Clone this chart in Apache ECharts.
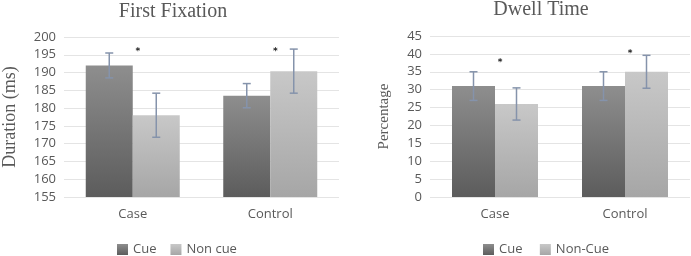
<!DOCTYPE html>
<html>
<head>
<meta charset="utf-8">
<script src="https://cdn.jsdelivr.net/npm/echarts@6/dist/echarts.min.js"></script>
<style>
  html, body { margin: 0; padding: 0; background: #fff; }
  #chart { width: 691px; height: 256px; }
</style>
</head>
<body>
<div id="chart"></div>
<script>
// categories
const categories = ["Case", "Control"];

// First Fixation (ms)
const fixCue = [192, 183.5];
const fixNonCue = [178, 190.4];
const fixCueErr = [3.5, 3.4];
const fixNonCueErr = [6.2, 6.2];
const fixStars = [196, 196];

// Dwell Time (%)
const dwellCue = [31, 31];
const dwellNonCue = [26, 35];
const dwellCueErr = [4, 4];
const dwellNonCueErr = [4.5, 4.6];
const dwellStars = [37.5, 40.2];

const textColor = "#595959";
const errColor = "#8593ab";

const cueColor = new echarts.graphic.LinearGradient(0, 0, 0, 1, [
  { offset: 0, color: "#8e8e8e" },
  { offset: 1, color: "#5c5c5c" },
]);
const nonCueColor = new echarts.graphic.LinearGradient(0, 0, 0, 1, [
  { offset: 0, color: "#c8c8c8" },
  { offset: 1, color: "#a6a6a6" },
]);

// 误差线, side = -1 左边柱子, 1 右边柱子
function errorBar(values, errs, side, barW, gridIndex) {
  return {
    type: "custom",
    xAxisIndex: gridIndex,
    yAxisIndex: gridIndex,
    silent: true,
    z: 5,
    data: values.map((v, i) => [i, v - errs[i], v + errs[i]]),
    renderItem: function (params, api) {
      let low = api.coord([api.value(0), api.value(1)]);
      let high = api.coord([api.value(0), api.value(2)]);
      let x = low[0] + (side * barW) / 2;
      let cap = 4;
      let style = { stroke: errColor, lineWidth: 1.5 };
      return {
        type: "group",
        children: [
          { type: "line", shape: { x1: x, y1: low[1], x2: x, y2: high[1] }, style: style },
          { type: "line", shape: { x1: x - cap, y1: low[1], x2: x + cap, y2: low[1] }, style: style },
          { type: "line", shape: { x1: x - cap, y1: high[1], x2: x + cap, y2: high[1] }, style: style },
        ],
      };
    },
  };
}

function stars(values, gridIndex) {
  return {
    type: "custom",
    xAxisIndex: gridIndex,
    yAxisIndex: gridIndex,
    silent: true,
    z: 6,
    data: values.map((v, i) => [i, v]),
    renderItem: function (params, api) {
      let p = api.coord([api.value(0), api.value(1)]);
      return {
        type: "text",
        x: p[0] + 5,
        y: p[1],
        style: { text: "*", fill: "#222", font: "bold 9px DejaVu Sans", align: "center", verticalAlign: "middle" },
      };
    },
  };
}

function yAxis(gridIndex, name, min, max, gap, nameSize) {
  return {
    type: "value",
    gridIndex: gridIndex,
    min: min,
    max: max,
    interval: 5,
    name: name,
    nameLocation: "middle",
    nameGap: gap,
    nameTextStyle: { color: textColor, fontFamily: "Liberation Serif", fontSize: nameSize },
    axisLine: { show: false },
    axisTick: { show: false },
    axisLabel: { color: textColor, fontFamily: "Open Sans", fontSize: 13, margin: 8 },
    splitLine: { lineStyle: { color: "#e4e4e4" } },
  };
}

function xAxis(gridIndex) {
  return {
    type: "category",
    gridIndex: gridIndex,
    data: categories,
    axisLine: { show: false },
    axisTick: { show: false },
    axisLabel: { color: textColor, fontFamily: "Open Sans", fontSize: 13, margin: 11 },
  };
}

const legendBase = {
  icon: "rect",
  itemWidth: 11,
  itemHeight: 11,
  itemGap: 14,
  top: 238,
  textStyle: { color: textColor, fontFamily: "Open Sans", fontSize: 13 },
};

const titleStyle = { color: textColor, fontFamily: "Liberation Serif", fontSize: 20, fontWeight: "normal" };

let option = {
  animation: false,
  title: [
    { text: "First Fixation", left: 168, top: -3, textAlign: "center", textStyle: titleStyle },
    { text: "Dwell Time", left: 536, top: -5, textAlign: "center", textStyle: titleStyle },
  ],
  legend: [
    Object.assign({}, legendBase, { left: 112, data: ["Cue", "Non cue"] }),
    Object.assign({}, legendBase, { left: 478, data: ["Cue ", "Non-Cue"] }),
  ],
  grid: [
    { left: 53, top: 37, width: 286, height: 160 },
    { left: 430, top: 36, width: 260, height: 161 },
  ],
  xAxis: [xAxis(0), xAxis(1)],
  yAxis: [yAxis(0, "Duration (ms)", 155, 200, 45, 18), yAxis(1, "Percentage", 0, 45, 38, 15)],
  series: [
    { name: "Cue", type: "bar", xAxisIndex: 0, yAxisIndex: 0, barWidth: 47, barGap: "0%", itemStyle: { color: cueColor }, data: fixCue },
    { name: "Non cue", type: "bar", xAxisIndex: 0, yAxisIndex: 0, barWidth: 47, barGap: "0%", itemStyle: { color: nonCueColor }, data: fixNonCue },
    { name: "Cue ", type: "bar", xAxisIndex: 1, yAxisIndex: 1, barWidth: 43, barGap: "0%", itemStyle: { color: cueColor }, data: dwellCue },
    { name: "Non-Cue", type: "bar", xAxisIndex: 1, yAxisIndex: 1, barWidth: 43, barGap: "0%", itemStyle: { color: nonCueColor }, data: dwellNonCue },
    errorBar(fixCue, fixCueErr, -1, 47, 0),
    errorBar(fixNonCue, fixNonCueErr, 1, 47, 0),
    errorBar(dwellCue, dwellCueErr, -1, 43, 1),
    errorBar(dwellNonCue, dwellNonCueErr, 1, 43, 1),
    stars(fixStars, 0),
    stars(dwellStars, 1),
  ],
};

let chart = echarts.init(document.getElementById("chart"));
chart.setOption(option);
</script>
</body>
</html>
